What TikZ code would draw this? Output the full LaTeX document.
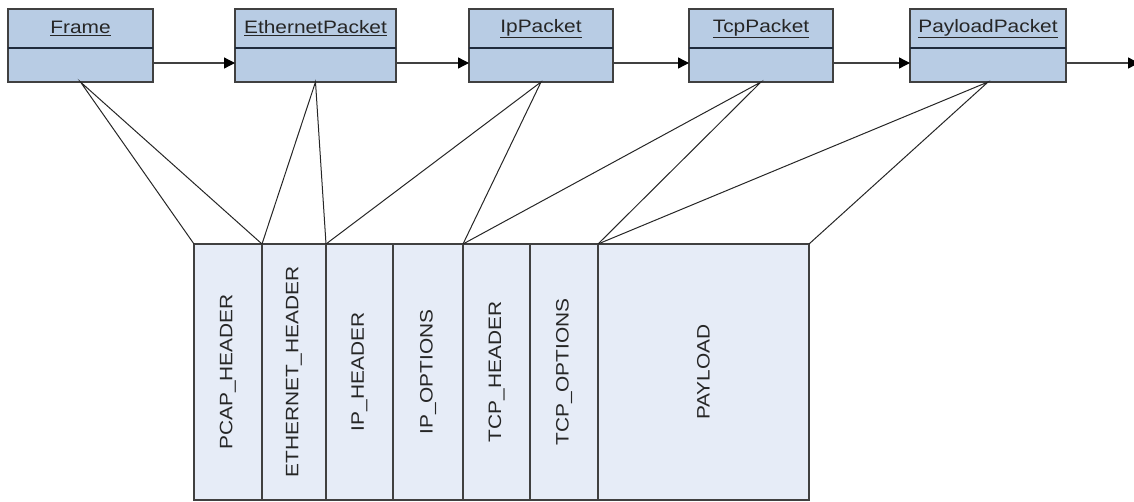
\documentclass[tikz,border=0pt]{standalone}
\usepackage{fontspec}
\setmainfont{Liberation Sans}
\newfontfamily\labelfont[FakeStretch=1.16]{Liberation Sans}
\usetikzlibrary{arrows.meta}

\definecolor{classfill}{HTML}{B8CCE4}
\definecolor{fieldfill}{HTML}{E6ECF7}
\definecolor{edge}{HTML}{404040}
\definecolor{divider}{HTML}{1F2B3C}
\definecolor{ink}{HTML}{262626}

\tikzset{
  classhead/.style={draw=edge, line width=1.6pt, fill=classfill, inner sep=0pt,
    outer sep=0pt, minimum height=39pt, font=\labelfont\fontsize{18}{20}\selectfont,
    text=ink},
  classbody/.style={draw=edge, line width=1.6pt, fill=classfill, inner sep=0pt,
    outer sep=0pt, minimum height=34pt},
  field/.style={draw=edge, line width=1.3pt, fill=fieldfill, inner sep=0pt,
    outer sep=0pt, minimum height=256pt, font=\labelfont\fontsize{18}{20}\selectfont,
    text=ink},
  flow/.style={draw=edge, line width=1.3pt,
    -{Triangle[length=11pt,width=11pt,color=black]}},
  link/.style={draw=black!85, line width=1pt},
}

\newcommand{\fieldlabel}[1]{\rotatebox{90}{#1}}

\begin{document}
\begin{tikzpicture}[x=1pt, y=-1pt]
  \useasboundingbox (0,0) rectangle (1134,501);

  % packet classes: header and empty body compartment
  \node[classhead, minimum width=145pt] (frameH) at (80.5,28.5) {\underline{Frame}};
  \node[classbody, minimum width=145pt] (frame)  at (80.5,65)   {};
  \node[classhead, minimum width=161pt] (ethH)   at (315.5,28.5) {\underline{EthernetPacket}};
  \node[classbody, minimum width=161pt] (eth)    at (315.5,65)   {};
  \node[classhead, minimum width=144pt] (ipH)    at (541,28.5)   {\underline{IpPacket}};
  \node[classbody, minimum width=144pt] (ip)     at (541,65)     {};
  \node[classhead, minimum width=144pt] (tcpH)   at (761,28.5)   {\underline{TcpPacket}};
  \node[classbody, minimum width=144pt] (tcp)    at (761,65)     {};
  \node[classhead, minimum width=156pt] (payH)   at (988,28.5)   {\underline{PayloadPacket}};
  \node[classbody, minimum width=156pt] (pay)    at (988,65)     {};

  % compartment dividers
  \foreach \c in {frame, eth, ip, tcp, pay}
    \draw[divider, line width=1.6pt] (\c.north west) -- (\c.north east);

  % chain of packets
  \coordinate (next) at (1139,63);
  \draw[flow] (frame.east |- 0,63) -- (eth.west |- 0,63);
  \draw[flow] (eth.east |- 0,63)   -- (ip.west |- 0,63);
  \draw[flow] (ip.east |- 0,63)    -- (tcp.west |- 0,63);
  \draw[flow] (tcp.east |- 0,63)   -- (pay.west |- 0,63);
  \draw[flow] (pay.east |- 0,63)   -- (next);

  % raw byte layout
  \node[field, minimum width=68pt]  (pcap)  at (228,372)   {\fieldlabel{PCAP\_HEADER}};
  \node[field, minimum width=64pt]  (ethh)  at (294,372)   {\fieldlabel{ETHERNET\_HEADER}};
  \node[field, minimum width=67pt]  (iph)   at (359.5,372) {\fieldlabel{IP\_HEADER}};
  \node[field, minimum width=70pt]  (ipo)   at (428,372)   {\fieldlabel{IP\_OPTIONS}};
  \node[field, minimum width=67pt]  (tcph)  at (496.5,372) {\fieldlabel{TCP\_HEADER}};
  \node[field, minimum width=68pt]  (tcpo)  at (564,372)   {\fieldlabel{TCP\_OPTIONS}};
  \node[field, minimum width=211pt] (load)  at (703.5,372) {\fieldlabel{PAYLOAD}};

  % which bytes each packet covers
  \draw[link] (pcap.north west) -- (frame.south) -- (pcap.north east);
  \draw[link] (ethh.north west) -- (eth.south)   -- (ethh.north east);
  \draw[link] (iph.north west)  -- (ip.south)    -- (ipo.north east);
  \draw[link] (tcph.north west) -- (tcp.south)   -- (tcpo.north east);
  \draw[link] (load.north west) -- (pay.south)   -- (load.north east);
\end{tikzpicture}
\end{document}
